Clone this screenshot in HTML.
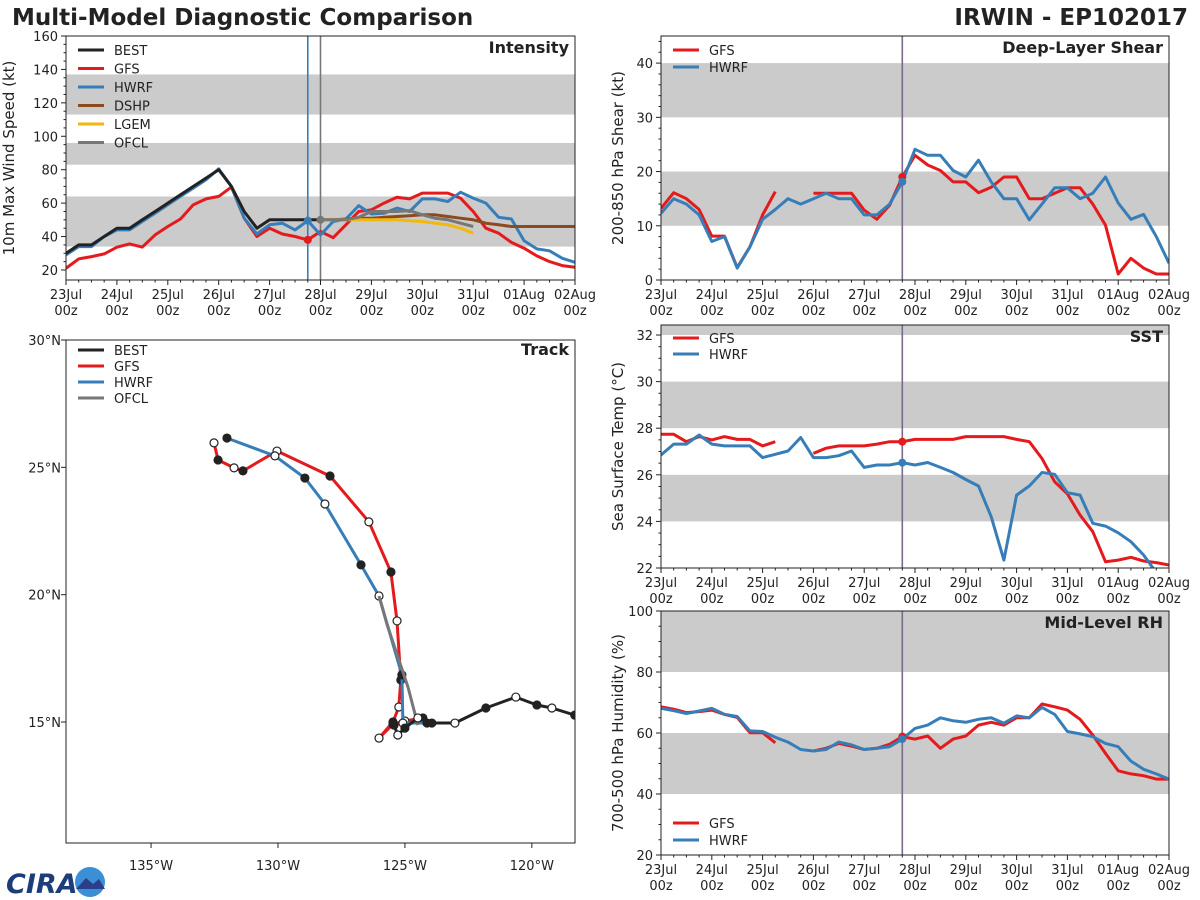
<!DOCTYPE html>
<html><head><meta charset="utf-8">
<style>
body{margin:0;background:#fff;}
svg{display:block;font-family:"DejaVu Sans","Liberation Sans",sans-serif;}
</style></head>
<body>
<svg id="chart" width="1200" height="900" viewBox="0 0 1200 900">
<rect width="1200" height="900" fill="#fff"/>
<text x="12" y="25" font-size="23" font-weight="bold" fill="#222">Multi-Model Diagnostic Comparison</text>
<text x="1188" y="25" font-size="23" font-weight="bold" fill="#222" text-anchor="end">IRWIN - EP102017</text>
<g>
<text x="6" y="893" font-size="27" font-weight="bold" fill="#1d3d7a" font-style="italic">CIRA</text>
<circle cx="90" cy="882" r="15" fill="#3a8fd6"/>
<path d="M76 889 L86 878 L93 884 L99 879 L105 889 Z" fill="#2a3f8a"/>
</g>
</svg>
<script>
// ---------- data ----------
const days = ["23Jul","24Jul","25Jul","26Jul","27Jul","28Jul","29Jul","30Jul","31Jul","01Aug","02Aug"];
const bestInt = [30,35,35,40,45,45,50,55,60,65,70,75,80,70,55,45,50,50,50,50,50];
const gfsInt = [21,26.6,28,29.6,33.6,35.6,33.7,41,46,50.5,59,62.5,64,69.6,51,40,45,41.5,40,38,43,39.3,47,55,56,60,63.5,62.5,66,66,66,63,55,45,42,36.5,33,28.4,25,22.6,21.6];
const hwrfInt = [29,34,34,40,44,44,49,54,59,64,69,74,80.5,70,51,41.5,47,48,44,49.5,41,49,50.5,58.5,53.5,54,57,55,62.5,62.5,61,66.5,63,60,51.5,50.5,37.5,32.6,31.5,27,24.6];
const dshpInt = [50,50,50.5,51,51,51.5,52,52.5,53,53,52,51,50,48,47,46,46,46,46,46,46]; // from index 20
const lgemInt = [50,50,50,50,50,50,50,49.5,49,48,47,45,42]; // from index 20
const ofclInt = [50,50,50,51.5,55,55,55,55.5,53,51,50,48,46]; // from index 20
const gfsShear = [13.2,16.1,15,13,8.1,8.1,2.3,6.1,12,16.3,null,null,16,16,16,16,12.9,11.2,13.8,19,23,21.2,20.2,18.1,18.1,16.1,17.1,19,19,15,15,16,17,17,14,10.1,1.1,4,2.2,1.1,1.1];
const hwrfShear = [12.3,15,14,12,7.1,8,2.2,6.1,11.2,13,15,14,15,16,15,15,12,12,14,18.1,24.1,23,23,20.2,19,22.1,18.1,15,15,11.1,14,17,17,15,16,19,14.2,11.2,12.1,8,3.1];
const gfsSst = [27.74,27.74,27.42,27.64,27.5,27.64,27.52,27.52,27.24,27.42,null,null,26.92,27.14,27.24,27.24,27.24,27.32,27.42,27.42,27.52,27.52,27.52,27.52,27.64,27.64,27.64,27.64,27.52,27.42,26.7,25.7,25.18,24.27,23.56,22.27,22.34,22.46,22.3,22.23,22.13];
const hwrfSst = [26.85,27.32,27.32,27.71,27.32,27.24,27.24,27.24,26.74,26.88,27.02,27.6,26.74,26.74,26.82,27.02,26.32,26.42,26.42,26.52,26.42,26.53,26.32,26.1,25.8,25.52,24.2,22.34,25.13,25.52,26.1,26.02,25.23,25.13,23.92,23.8,23.51,23.13,22.56,21.8,21.4];
const gfsRh = [68.6,67.8,66.7,67,67.5,66.1,65.1,60.1,60.1,56.8,null,null,54.1,55,56.6,55.7,54.6,55,56.3,58.8,58,59,55,58,59,62.6,63.5,62.6,65,65,69.5,68.6,67.5,64.5,59.3,53.3,47.6,46.6,46,44.9,44.9];
const hwrfRh = [68.1,67.3,66.4,67.2,68.1,66.1,65.4,60.7,60.5,58.6,57,54.6,54.1,54.6,57,56.1,54.6,55,55.5,58,61.5,62.6,65,64,63.5,64.5,65,63.2,65.6,65,68.4,66.1,60.5,59.7,58.8,56.6,55.5,50.8,48.1,46.6,44.9];
const bestLon = [-118.31,-119.21,-119.80,-120.63,-121.81,-123.03,-123.94,-124.49,-125.0,-125.28,-125.43];
const bestLat = [15.27,15.55,15.67,15.98,15.55,14.96,14.96,15.16,14.76,14.49,14.88];
const gfsLon = [-124.29,-125.0,-125.47,-126.02,-125.47,-125.24,-125.16,-125.31,-125.55,-126.42,-127.95,-130.04,-131.38,-131.73,-132.36,-132.52];
const gfsLat = [15.16,15.04,14.92,14.37,15.0,15.59,16.65,18.97,20.89,22.86,24.66,25.64,24.86,24.98,25.29,25.96];
const hwrfLon = [-124.13,-125.08,-125.12,-126.02,-126.73,-128.15,-128.94,-130.12,-132.01];
const hwrfLat = [14.96,14.96,16.85,19.95,21.17,23.56,24.58,25.45,26.15];
const ofclLon = [-124.49,-124.88,-125.71,-126.02];
const ofclLat = [14.88,16.37,18.85,19.95];

const RED="#e41a1c", BLUE="#377eb8", BLACK="#222", BROWN="#8c4a1e", GOLD="#f0b90b", GRAY="#777";
const NS="http://www.w3.org/2000/svg";
const svg=document.getElementById('chart');
function mk(tag,attrs,parent){const e=document.createElementNS(NS,tag);for(const k in attrs)e.setAttribute(k,attrs[k]);(parent||svg).appendChild(e);return e;}

function timePanel(p){
  const g=mk('g',{});
  
  
  p.g=g;
  p.X=i=>p.x0+i*(p.x1-p.x0)/40;
  p.Y=v=>p.y1-(v-p.vmin)*(p.y1-p.y0)/(p.vmax-p.vmin);
  const clipId='c'+p.name;
  const cp=mk('clipPath',{id:clipId},g);mk('rect',{x:p.x0,y:p.y0,width:p.x1-p.x0,height:p.y1-p.y0},cp);
  p.clip='url(#'+clipId+')';
  p.bands.forEach(b=>{
    const lo=Math.max(b[0],p.vmin),hi=Math.min(b[1],p.vmax);
    const r=mk('rect',{x:p.x0,y:p.Y(hi),width:p.x1-p.x0,height:p.Y(lo)-p.Y(hi),fill:"#cbcbcb"},g);
    
    
  });
  for(let i=0;i<=40;i++){
    const x=p.X(i),maj=i%4===0;
    mk('line',{x1:x,x2:x,y1:p.y1,y2:p.y1+(maj?5:2.5),stroke:"#222","stroke-width":1},g);
    if(maj){
      const t=mk('text',{x:x,y:p.y1+19,"font-size":13,"text-anchor":"middle",fill:"#222"},g);t.textContent=days[i/4];
      
      
      const t2=mk('text',{x:x,y:p.y1+35,"font-size":13,"text-anchor":"middle",fill:"#222"},g);t2.textContent="00z";
      
      
    }
  }
  for(let v=p.tick0;v<=p.vmax+1e-6;v+=p.minor){
    const y=p.Y(v);const maj=Math.abs(((v-p.tick0)/p.major)-Math.round((v-p.tick0)/p.major))<1e-6;
    mk('line',{x1:p.x0,x2:p.x0-(maj?5:2.5),y1:y,y2:y,stroke:"#222","stroke-width":1},g);
    if(maj){const t=mk('text',{x:p.x0-8,y:y+5,"font-size":13,"text-anchor":"end",fill:"#222"},g);t.textContent=v;
      
      }
  }
  const yt=mk('text',{x:0,y:0,"font-size":15,"text-anchor":"middle",fill:"#222",transform:`translate(${p.x0-p.ylOff},${(p.y0+p.y1)/2}) rotate(-90)`},g);
  yt.textContent=p.ylabel;
  
  
  const tt=mk('text',{x:p.x1-6,y:p.y0+17,"font-size":16,"font-weight":"bold","text-anchor":"end",fill:"#222"},g);
  tt.textContent=p.title;
  
  
  return p;
}
function series(p,vals,start,color,name,w){
  let d="",pen=false;
  vals.forEach((v,k)=>{if(v===null){pen=false;return;}const x=p.X(start+k),y=p.Y(v);d+=(pen?"L":"M")+x.toFixed(1)+" "+y.toFixed(1);pen=true;});
  const e=mk('path',{d:d,fill:"none",stroke:color,"stroke-width":w||3,"stroke-linejoin":"round","clip-path":p.clip},p.g);
  
  
}
function marker(p,i,v,color,name){
  const c=mk('circle',{cx:p.X(i),cy:p.Y(v),r:4,fill:color},p.g);
  
  
}
function vline(p,i,color,name){
  const l=mk('line',{x1:p.X(i),x2:p.X(i),y1:p.y0,y2:p.y1,stroke:color,"stroke-width":1.6},p.g);
  
  
}
function frame(p){const r=mk('rect',{x:p.x0,y:p.y0,width:p.x1-p.x0,height:p.y1-p.y0,fill:"none",stroke:"#222","stroke-width":1},p.g);
  
  }
function legend(p,items,x,y,step){
  items.forEach((it,k)=>{
    const yy=y+k*step;
    const l=mk('line',{x1:x,x2:x+26,y1:yy,y2:yy,stroke:it[1],"stroke-width":3},p.g);
    
    
    const t=mk('text',{x:x+36,y:yy+5,"font-size":13,fill:"#222"},p.g);t.textContent=it[0];
    
    
  });
}

const pI=timePanel({name:'intensity-panel',x0:66,x1:575,y0:36,y1:280,vmin:14,vmax:160,tick0:20,major:20,minor:5,bands:[[34,64],[83,96],[113,137]],ylabel:"10m Max Wind Speed (kt)",ylOff:52,title:"Intensity"});
vline(pI,19,BLUE,'hwrf-init-line');vline(pI,20,GRAY,'ofcl-init-line');
series(pI,gfsInt,0,RED,'gfs-intensity-line');
series(pI,hwrfInt,0,BLUE,'hwrf-intensity-line');
series(pI,bestInt,0,BLACK,'best-intensity-line');
series(pI,dshpInt,20,BROWN,'dshp-intensity-line');
series(pI,lgemInt,20,GOLD,'lgem-intensity-line');
series(pI,ofclInt,20,GRAY,'ofcl-intensity-line');
marker(pI,19,gfsInt[19],RED,'gfs-init-marker');marker(pI,19,hwrfInt[19],BLUE,'hwrf-init-marker');marker(pI,20,ofclInt[0],GRAY,'ofcl-init-marker');
legend(pI,[["BEST",BLACK],["GFS",RED],["HWRF",BLUE],["DSHP",BROWN],["LGEM",GOLD],["OFCL",GRAY]],78,50,18.5);
frame(pI);

const pS=timePanel({name:'shear-panel',x0:661,x1:1169,y0:36,y1:280,vmin:0,vmax:45,tick0:0,major:10,minor:2,bands:[[10,20],[30,40]],ylabel:"200-850 hPa Shear (kt)",ylOff:38,title:"Deep-Layer Shear"});
vline(pS,19,"#7a6a8c",'init-line');
series(pS,gfsShear,0,RED,'gfs-shear-line');series(pS,hwrfShear,0,BLUE,'hwrf-shear-line');
marker(pS,19,gfsShear[19],RED,'gfs-init-marker');marker(pS,19,hwrfShear[19],BLUE,'hwrf-init-marker');
legend(pS,[["GFS",RED],["HWRF",BLUE]],673,50,17);
frame(pS);

const pT=timePanel({name:'sst-panel',x0:661,x1:1169,y0:325,y1:568,vmin:22,vmax:32.43,tick0:22,major:2,minor:0.5,bands:[[24,26],[28,30],[32,34]],ylabel:"Sea Surface Temp (°C)",ylOff:38,title:"SST"});
vline(pT,19,"#7a6a8c",'init-line');
series(pT,gfsSst,0,RED,'gfs-sst-line');series(pT,hwrfSst,0,BLUE,'hwrf-sst-line');
marker(pT,19,gfsSst[19],RED,'gfs-init-marker');marker(pT,19,hwrfSst[19],BLUE,'hwrf-init-marker');
legend(pT,[["GFS",RED],["HWRF",BLUE]],673,338,16);
frame(pT);

const pR=timePanel({name:'rh-panel',x0:661,x1:1169,y0:611,y1:855,vmin:20,vmax:100,tick0:20,major:20,minor:5,bands:[[40,60],[80,100]],ylabel:"700-500 hPa Humidity (%)",ylOff:38,title:"Mid-Level RH"});
vline(pR,19,"#7a6a8c",'init-line');
series(pR,gfsRh,0,RED,'gfs-rh-line');series(pR,hwrfRh,0,BLUE,'hwrf-rh-line');
marker(pR,19,gfsRh[19],RED,'gfs-init-marker');marker(pR,19,hwrfRh[19],BLUE,'hwrf-init-marker');
legend(pR,[["GFS",RED],["HWRF",BLUE]],673,823,17);
frame(pR);

const T={x0:66,x1:575,y0:340,y1:843,lon0:-138.35,lon1:-118.3,lat0:10.25,lat1:30};
T.X=lon=>T.x0+(lon-T.lon0)*(T.x1-T.x0)/(T.lon1-T.lon0);
T.Y=lat=>T.y1-(lat-T.lat0)*(T.y1-T.y0)/(T.lat1-T.lat0);
const tg=mk('g',{});


const tcp=mk('clipPath',{id:'ctrack'},tg);mk('rect',{x:T.x0,y:T.y0,width:T.x1-T.x0,height:T.y1-T.y0},tcp);
[15,20,25,30].forEach(la=>{const y=T.Y(la);mk('line',{x1:T.x0,x2:T.x0-5,y1:y,y2:y,stroke:"#222"},tg);
  const t=mk('text',{x:T.x0-5,y:y+5,"font-size":13,"text-anchor":"end",fill:"#222"},tg);t.textContent=la+"°N";
  
  });
[-135,-130,-125,-120].forEach(lo=>{const x=T.X(lo);mk('line',{x1:x,x2:x,y1:T.y1,y2:T.y1+5,stroke:"#222"},tg);
  const t=mk('text',{x:x,y:T.y1+27,"font-size":13,"text-anchor":"middle",fill:"#222"},tg);t.textContent=(-lo)+"°W";
  
  });
function track(lons,lats,color,name,marks){
  const d=lons.map((lo,k)=>(k?"L":"M")+T.X(lo).toFixed(1)+" "+T.Y(lats[k]).toFixed(1)).join("");
  const e=mk('path',{d:d,fill:"none",stroke:color,"stroke-width":3,"stroke-linejoin":"round","clip-path":"url(#ctrack)"},tg);
  
  
  if(marks){lons.forEach((lo,k)=>{
    const c=mk('circle',{cx:T.X(lo),cy:T.Y(lats[k]),r:4,fill:k%2?"#fff":"#222",stroke:"#222","stroke-width":1.2,"clip-path":"url(#ctrack)"},tg);
    
    
  });}
}
track(gfsLon,gfsLat,RED,'gfs-track',true);
track(hwrfLon,hwrfLat,BLUE,'hwrf-track',true);
track(ofclLon,ofclLat,GRAY,'ofcl-track',false);
track(bestLon,bestLat,BLACK,'best-track',true);
const ttl=mk('text',{x:T.x1-6,y:T.y0+15,"font-size":16,"font-weight":"bold","text-anchor":"end",fill:"#222"},tg);ttl.textContent="Track";


[["BEST",BLACK],["GFS",RED],["HWRF",BLUE],["OFCL",GRAY]].forEach((it,k)=>{
  const yy=350+k*16;
  mk('line',{x1:78,x2:104,y1:yy,y2:yy,stroke:it[1],"stroke-width":3},tg);
  const t=mk('text',{x:114,y:yy+5,"font-size":13,fill:"#222"},tg);t.textContent=it[0];
  
  
});
mk('rect',{x:T.x0,y:T.y0,width:T.x1-T.x0,height:T.y1-T.y0,fill:"none",stroke:"#222"},tg);
</script>
</body></html>
